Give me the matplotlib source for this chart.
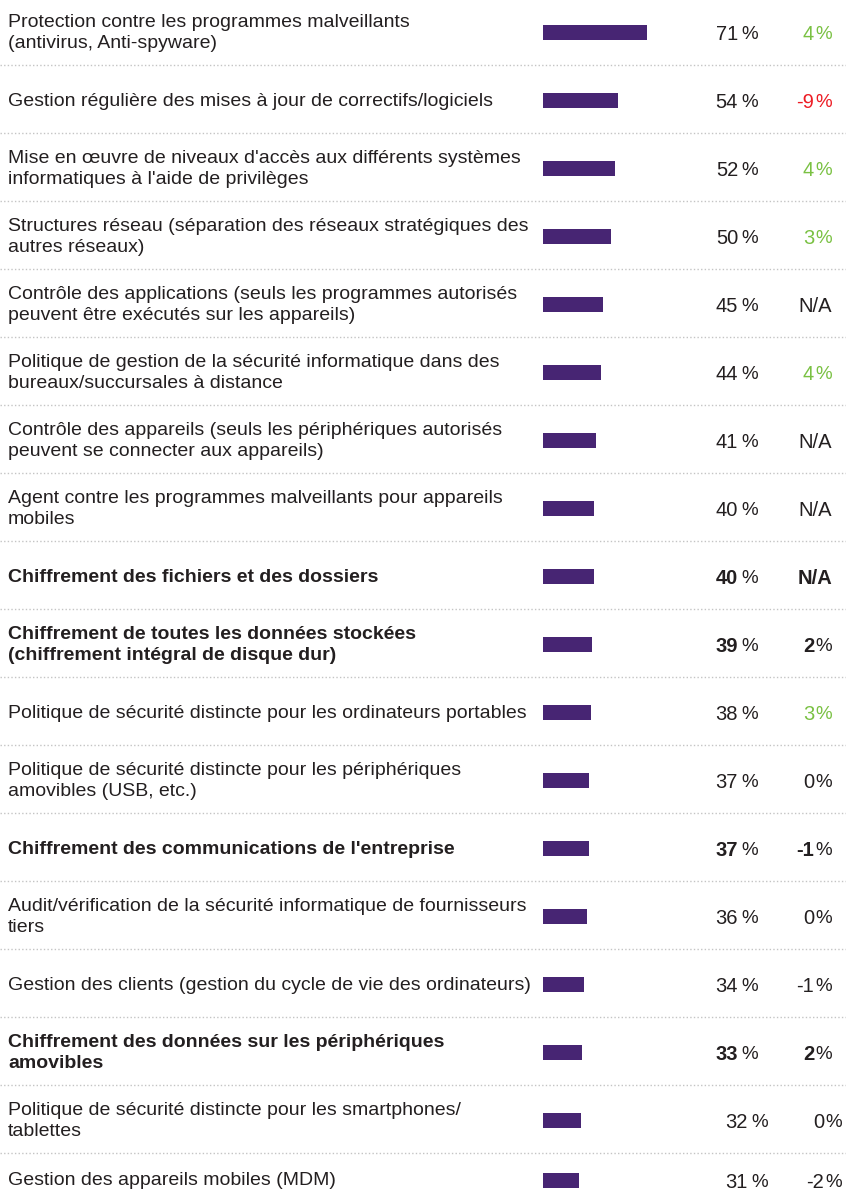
import matplotlib
matplotlib.use("Agg")
import matplotlib.pyplot as plt
import numpy as np

labels = [
    "Protection contre les programmes malveillants\n(antivirus, Anti-spyware)",
    "Gestion régulière des mises à jour de correctifs/logiciels",
    "Mise en œuvre de niveaux d'accès aux différents systèmes\ninformatiques à l'aide de privilèges",
    "Structures réseau (séparation des réseaux stratégiques des\nautres réseaux)",
    "Contrôle des applications (seuls les programmes autorisés\npeuvent être exécutés sur les appareils)",
    "Politique de gestion de la sécurité informatique dans des\nbureaux/succursales à distance",
    "Contrôle des appareils (seuls les périphériques autorisés\npeuvent se connecter aux appareils)",
    "Agent contre les programmes malveillants pour appareils\nmobiles",
    "Chiffrement des fichiers et des dossiers",
    "Chiffrement de toutes les données stockées\n(chiffrement intégral de disque dur)",
    "Politique de sécurité distincte pour les ordinateurs portables",
    "Politique de sécurité distincte pour les périphériques\namovibles (USB, etc.)",
    "Chiffrement des communications de l'entreprise",
    "Audit/vérification de la sécurité informatique de fournisseurs\ntiers",
    "Gestion des clients (gestion du cycle de vie des ordinateurs)",
    "Chiffrement des données sur les périphériques\namovibles",
    "Politique de sécurité distincte pour les smartphones/\ntablettes",
    "Gestion des appareils mobiles (MDM)",
]
values = [71, 54, 52, 50, 45, 44, 41, 40, 40, 39, 38, 37, 37, 36, 34, 33, 32, 31]
changes = ["4", "-9", "4", "3", "N/A", "4", "N/A", "N/A", "N/A", "2",
           "3", "0", "-1", "0", "-1", "2", "0", "-2"]
change_colors = ["g", "r", "g", "g", "k", "g", "k", "k", "k", "k",
                 "g", "k", "k", "k", "k", "k", "k", "k"]
bold_rows = [8, 9, 12, 15]

W, H = 846, 1196
purple = "#472573"
dark = "#231f20"
cmap = {"g": "#7ac143", "r": "#ed1c24", "k": dark}
label_font = ["Liberation Sans", "DejaVu Sans"]
num_font = ["Liberation Sans", "DejaVu Sans"]

n = len(values)
rows = np.arange(n)
row_px = 68.0
ylim = (n - 1 + 9 / row_px, -31 / row_px)

# last row sits a bit higher so it isn't cut by the bottom edge
ypos = rows.astype(float)
ypos[-1] -= 0.12

fig = plt.figure(figsize=(W / 100, H / 100), dpi=100)
fig.patch.set_facecolor("white")

# background axes: text + dotted separators
ax = fig.add_axes([0, 0, 1, 1])
ax.set_xlim(0, 1)
ax.set_ylim(*ylim)
ax.axis("off")

for y in rows[:-1] + 0.5:
    ax.plot([0, 1], [y, y], color="#c4c4c4", lw=1.0, linestyle=(0, (1, 1.6)))

for i in rows:
    w = "bold" if i in bold_rows else "normal"
    ax.text(8 / W, ypos[i] + 0.03, labels[i], ha="left", va="center", fontsize=14.0,
            family=label_font, fontweight=w, color=dark, linespacing=1.35)

    shift = 10 / W if i >= 16 else 0
    yt = ypos[i] + 0.05
    # share
    ax.text(738 / W + shift, yt, str(values[i]), ha="right", va="center",
            fontsize=14.5, family=num_font, fontweight=w, color=dark)
    ax.text(758 / W + shift, yt, "%", ha="right", va="center",
            fontsize=13.5, family=num_font, color=dark)
    # change vs previous year
    c = cmap[change_colors[i]]
    if changes[i] == "N/A":
        ax.text(832 / W + shift, yt, "N/A", ha="right", va="center",
                fontsize=14.5, family=num_font, fontweight=w, color=c)
    else:
        ax.text(814 / W + shift, yt, changes[i], ha="right", va="center",
                fontsize=14.5, family=num_font, fontweight=w, color=c)
        ax.text(832 / W + shift, yt, "%", ha="right", va="center",
                fontsize=13.5, family=num_font, color=c)

# bar axes (axis starts at 10 %)
bx = fig.add_axes([543 / W, 0, (W - 543) / W, 1])
bx.set_xlim(10, 10 + (W - 543) / 1.705)
bx.set_ylim(*ylim)
bx.axis("off")
bx.patch.set_alpha(0)
bx.barh(ypos + 0.022, values, height=15 / row_px, color=purple)

fig.savefig("out.png", dpi=100, facecolor="white")
